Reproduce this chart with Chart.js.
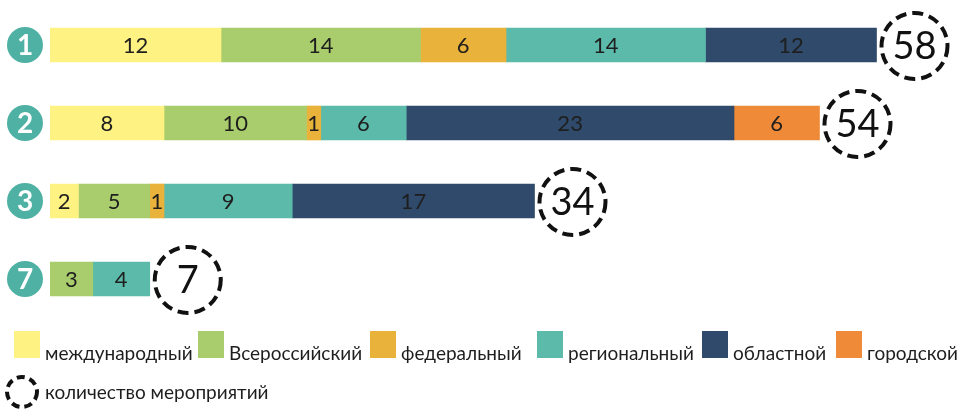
<!DOCTYPE html>
<html><head><meta charset="utf-8">
<script src="https://cdn.jsdelivr.net/npm/chart.js@4/dist/chart.umd.min.js"></script>
<style>html,body{margin:0;padding:0;background:#fff}#wrap{width:962px;height:409px}</style>
</head><body><div id="wrap"><canvas id="c"></canvas></div>
<script>
const categories = ['1', '2', '3', '7'];
const seriesNames = ['международный', 'Всероссийский', 'федеральный', 'региональный', 'областной', 'городской'];
const international = [12, 8, 2, null];
const allRussian = [14, 10, 5, 3];
const federal = [6, 1, 1, null];
const regional = [14, 6, 9, 4];
const oblast = [12, 23, 17, null];
const city = [null, 6, null, null];
const totals = [58, 54, 34, 7];
const totalLegend = 'количество мероприятий';
const colors = ['#fdf282', '#a9cd6c', '#e9b23a', '#5cbaaa', '#2f4a6a', '#ef8b38'];

const seriesValues = [international, allRussian, federal, regional, oblast, city];
const FONT = 'Lato, "Open Sans", sans-serif';

const overlay = {
  id: 'overlay',
  afterDatasetsDraw(chart) {
    const ctx = chart.ctx;
    const xs = chart.scales.x, ys = chart.scales.y;
    ctx.save();
    chart.data.datasets.forEach((ds, di) => {
      const meta = chart.getDatasetMeta(di);
      meta.data.forEach((bar, i) => {
        const v = ds.data[i];
        if (v == null) return;
        const cx = (bar.x + bar.base) / 2;
        ctx.fillStyle = '#1e1e1e';
        ctx.font = '22px ' + FONT;
        ctx.textAlign = 'center';
        ctx.textBaseline = 'middle';
        ctx.fillText(String(v), cx, bar.y + 1);
      });
    });
    categories.forEach((cat, i) => {
      const y = ys.getPixelForValue(i);
      ctx.beginPath();
      ctx.arc(25, y, 18, 0, Math.PI * 2);
      ctx.fillStyle = '#4fb0a4';
      ctx.fill();
      ctx.fillStyle = '#fff';
      ctx.font = 'bold 28px ' + FONT;
      ctx.textAlign = 'center';
      ctx.textBaseline = 'middle';
      ctx.fillText(cat, 25, y + 1);

      const endX = xs.getPixelForValue(totals[i]);
      const cx = endX + 38, r = 33;
      ctx.beginPath();
      ctx.setLineDash([11, 6]);
      ctx.lineWidth = 4;
      ctx.strokeStyle = '#111';
      ctx.arc(cx, y + 1, r, 0, Math.PI * 2);
      ctx.stroke();
      ctx.setLineDash([]);
      ctx.fillStyle = '#111';
      ctx.font = '38px ' + FONT;
      ctx.fillText(String(totals[i]), cx, y + 2);
    });
    const legendX = [14, 198, 370, 537, 702, 836];
    ctx.textAlign = 'left';
    ctx.textBaseline = 'alphabetic';
    seriesNames.forEach((name, k) => {
      const x = legendX[k];
      ctx.fillStyle = colors[k];
      ctx.fillRect(x, 331, 26, 27);
      ctx.fillStyle = '#1e1e1e';
      ctx.font = '19px ' + FONT;
      ctx.fillText(name, x + 31, 360);
    });
    ctx.beginPath();
    ctx.setLineDash([8, 5]);
    ctx.lineWidth = 4;
    ctx.strokeStyle = '#111';
    ctx.arc(22, 392, 15, 0, Math.PI * 2);
    ctx.stroke();
    ctx.setLineDash([]);
    ctx.fillStyle = '#1e1e1e';
    ctx.font = '19px ' + FONT;
    ctx.fillText(totalLegend, 45, 399);
    ctx.restore();
  }
};

new Chart(document.getElementById('c'), {
  type: 'bar',
  data: {
    labels: categories,
    datasets: seriesNames.map((n, k) => ({
      label: n,
      data: seriesValues[k],
      backgroundColor: colors[k],
      borderWidth: 0,
      barThickness: 34
    }))
  },
  options: {
    indexAxis: 'y',
    responsive: true,
    maintainAspectRatio: false,
    animation: false,
    layout: { padding: { left: 50, right: 0, top: 6, bottom: 91 } },
    scales: {
      x: { stacked: true, display: false, min: 0, max: 64 },
      y: { stacked: true, display: false }
    },
    plugins: { legend: { display: false }, tooltip: { enabled: false } }
  },
  plugins: [overlay]
});
</script></body></html>
